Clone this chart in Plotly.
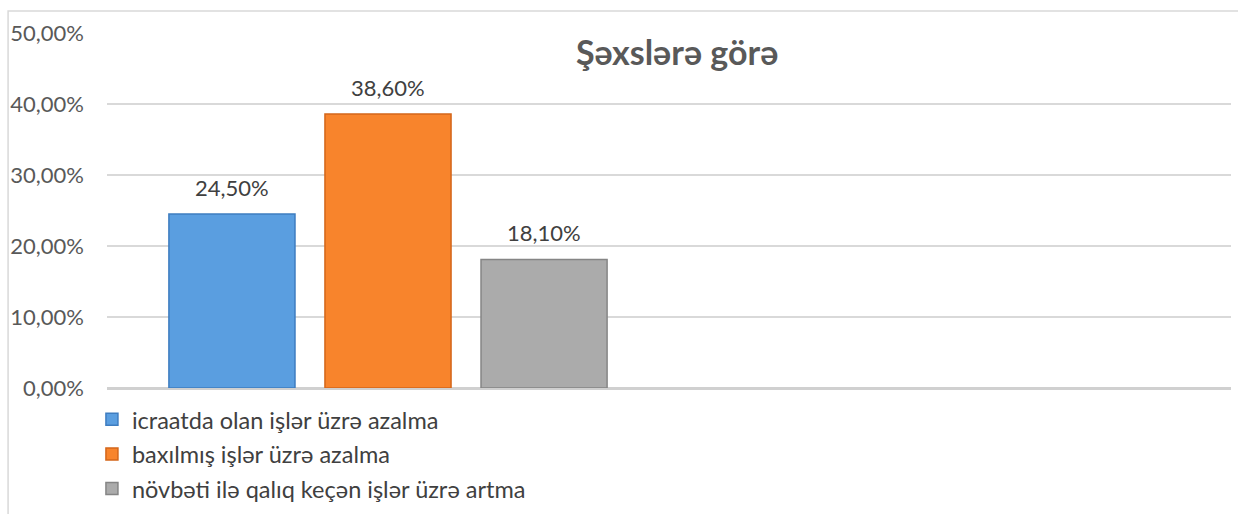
import plotly.graph_objects as go

series_names = [
    "icraatda olan işlər üzrə azalma",
    "baxılmış işlər üzrə azalma",
    "növbəti ilə qalıq keçən işlər üzrə artma",
]
series_values = [0.245, 0.386, 0.181]
category_x = [0]
title_text = "Şəxslərə görə"

fills = ["#5A9EE0", "#F8842C", "#ABABAB"]
edges = ["#3E7DC0", "#D4661A", "#858585"]

FONT = "Lato, 'Open Sans', sans-serif"
BARGAP = 0.167
GROUPGAP = 0.192

fig = go.Figure()
n = len(series_names)
slot = (1 - BARGAP) / n
annotations = []
for i, (name, val) in enumerate(zip(series_names, series_values)):
    fig.add_trace(go.Bar(
        x=category_x, y=[val], name=name,
        legendgroup=f"g{i}",
        marker=dict(color=fills[i], line=dict(color=edges[i], width=1.5)),
        hoverinfo="y",
    ))
    annotations.append(dict(
        x=category_x[0] + (i - (n - 1) / 2) * slot, y=val,
        xref="x", yref="y", text=f"{val * 100:.2f}%".replace(".", ","),
        showarrow=False, yanchor="bottom", yshift=11,
        font=dict(size=22, color="#404040", family=FONT),
    ))

annotations.append(dict(
    text=f"<b>{title_text}</b>", x=0.507, y=0.948, xref="paper", yref="paper",
    showarrow=False, font=dict(size=34, color="#595959", family=FONT),
    xanchor="center", yanchor="middle",
))

fig.update_layout(
    width=1238, height=514,
    margin=dict(l=107, r=7, t=33, b=126, autoexpand=False),
    paper_bgcolor="white", plot_bgcolor="white",
    separators=", ",
    barmode="group", bargap=BARGAP, bargroupgap=GROUPGAP,
    font=dict(family=FONT, color="#595959"),
    showlegend=True,
    legend=dict(
        orientation="v", x=-0.0134, xanchor="left", y=-0.027, yanchor="top",
        font=dict(size=23.5, color="#404040", family=FONT),
        tracegroupgap=1, itemwidth=30,
    ),
    annotations=annotations,
    shapes=[dict(
        type="rect", xref="paper", yref="paper",
        x0=-0.088, x1=1.02, y0=-0.4, y1=1.062,
        line=dict(color="#D9D9D9", width=1.5), layer="below",
    )],
)
fig.update_xaxes(range=[-0.5, 1.5], showticklabels=False, showgrid=False,
                 zeroline=False, showline=False, ticks="")
fig.update_yaxes(range=[0, 0.5], dtick=0.1, tickformat=".2%",
                 showgrid=True, gridcolor="#D9D9D9", gridwidth=1.5,
                 zeroline=True, zerolinecolor="#D0D0D0", zerolinewidth=2.5,
                 ticks="", ticklabelstandoff=22,
                 tickfont=dict(size=22, color="#595959", family=FONT))

fig.write_html(
    "out.html",
    config={"displayModeBar": False},
    post_script="document.body.style.margin='0';document.body.style.overflow='hidden';",
)
